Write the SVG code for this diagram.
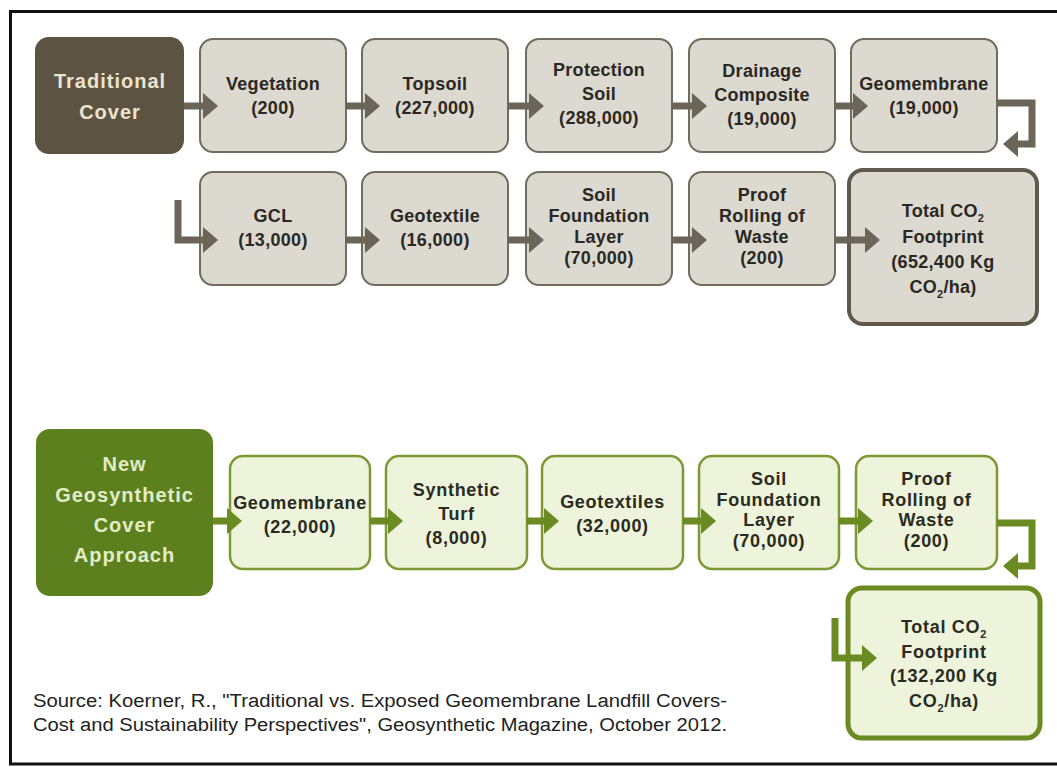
<svg xmlns="http://www.w3.org/2000/svg" width="1057" height="767" viewBox="0 0 1057 767">
<style>
.t{font-family:"Liberation Sans",Arial,sans-serif;font-weight:bold;font-size:18px;letter-spacing:0.3px;text-anchor:middle;fill:#2b2823}
.tg{font-family:"Liberation Sans",Arial,sans-serif;font-weight:bold;font-size:18px;letter-spacing:0.7px;text-anchor:middle;fill:#2a2b20}
.h{font-family:"Liberation Sans",Arial,sans-serif;font-weight:bold;font-size:20px;letter-spacing:1px;text-anchor:middle}
.gray{fill:#dcd9d1;stroke:#726c5f;stroke-width:2}
.grayT{fill:#dcd9d1;stroke:#5f594d;stroke-width:4}
.green{fill:#eef3dc;stroke:#7b9a33;stroke-width:2.5}
.greenT{fill:#eef3dc;stroke:#6b8a22;stroke-width:5}
.ca{fill:none;stroke:#6b6558;stroke-width:7}
.cg{fill:none;stroke:#6a8b22;stroke-width:7}
.src{font-family:"Liberation Sans",Arial,sans-serif;font-size:18px;fill:#222}
</style>
<defs>
<marker id="ah" markerUnits="userSpaceOnUse" markerWidth="16" markerHeight="28" refX="0" refY="13" orient="auto" overflow="visible"><path d="M0,0 L15,13 L0,26 z" fill="#6b6558"/></marker>
<marker id="ahg" markerUnits="userSpaceOnUse" markerWidth="16" markerHeight="28" refX="0" refY="13" orient="auto" overflow="visible"><path d="M0,0 L15,13 L0,26 z" fill="#6a8b22"/></marker>
</defs>
<rect x="0" y="0" width="1057" height="767" fill="#ffffff"/>
<rect x="10.5" y="11.5" width="1070" height="752.5" fill="none" stroke="#111" stroke-width="3"/>

<g id="traditional-cover">
<rect x="35" y="37" width="149" height="117" rx="14" fill="#5c5342"/>
<text class="h" fill="#ede4d0"><tspan x="110" y="88">Traditional</tspan><tspan x="110" y="119">Cover</tspan></text>
</g>
<g id="vegetation">
<rect class="gray" x="200" y="39" width="146" height="113" rx="13"/>
<text class="t"><tspan x="273" y="90">Vegetation</tspan><tspan x="273" y="114">(200)</tspan></text>
</g>
<g id="topsoil">
<rect class="gray" x="362" y="39" width="146" height="113" rx="13"/>
<text class="t"><tspan x="435" y="90">Topsoil</tspan><tspan x="435" y="114">(227,000)</tspan></text>
</g>
<g id="protection-soil">
<rect class="gray" x="526" y="39" width="146" height="113" rx="13"/>
<text class="t"><tspan x="599" y="76">Protection</tspan><tspan x="599" y="100">Soil</tspan><tspan x="599" y="124">(288,000)</tspan></text>
</g>
<g id="drainage-composite">
<rect class="gray" x="689" y="39" width="146" height="113" rx="13"/>
<text class="t"><tspan x="762" y="77">Drainage</tspan><tspan x="762" y="101">Composite</tspan><tspan x="762" y="125">(19,000)</tspan></text>
</g>
<g id="geomembrane-1">
<rect class="gray" x="851" y="39" width="146" height="113" rx="13"/>
<text class="t"><tspan x="924" y="90">Geomembrane</tspan><tspan x="924" y="114">(19,000)</tspan></text>
</g>

<g id="gcl">
<rect class="gray" x="200" y="172" width="146" height="113" rx="13"/>
<text class="t"><tspan x="273" y="222">GCL</tspan><tspan x="273" y="246">(13,000)</tspan></text>
</g>
<g id="geotextile">
<rect class="gray" x="362" y="172" width="146" height="113" rx="13"/>
<text class="t"><tspan x="435" y="222">Geotextile</tspan><tspan x="435" y="246">(16,000)</tspan></text>
</g>
<g id="soil-foundation-1">
<rect class="gray" x="526" y="172" width="146" height="113" rx="13"/>
<text class="t"><tspan x="599" y="201">Soil</tspan><tspan x="599" y="222">Foundation</tspan><tspan x="599" y="243">Layer</tspan><tspan x="599" y="264">(70,000)</tspan></text>
</g>
<g id="proof-rolling-1">
<rect class="gray" x="689" y="172" width="146" height="113" rx="13"/>
<text class="t"><tspan x="762" y="201">Proof</tspan><tspan x="762" y="222">Rolling of</tspan><tspan x="762" y="243">Waste</tspan><tspan x="762" y="264">(200)</tspan></text>
</g>
<g id="total-traditional">
<rect class="grayT" x="849" y="170" width="188" height="154" rx="14"/>
<text class="t"><tspan x="943" y="217">Total CO<tspan font-size="11" dy="5">2</tspan></tspan><tspan x="943" y="243">Footprint</tspan><tspan x="943" y="268">(652,400 Kg</tspan><tspan x="943" y="293">CO<tspan font-size="11" dy="5">2</tspan><tspan dy="-5">/ha)</tspan></tspan></text>
</g>

<g id="new-geosynthetic">
<rect x="36" y="429" width="177" height="167" rx="14" fill="#5b801d"/>
<text class="h" fill="#e2ecc8"><tspan x="124.5" y="471">New</tspan><tspan x="124.5" y="502">Geosynthetic</tspan><tspan x="124.5" y="532">Cover</tspan><tspan x="124.5" y="562">Approach</tspan></text>
</g>
<g id="geomembrane-2">
<rect class="green" x="230" y="456" width="140" height="113" rx="13"/>
<text class="tg"><tspan x="300" y="509">Geomembrane</tspan><tspan x="300" y="533">(22,000)</tspan></text>
</g>
<g id="synthetic-turf">
<rect class="green" x="386" y="456" width="141" height="113" rx="13"/>
<text class="tg"><tspan x="456.5" y="496">Synthetic</tspan><tspan x="456.5" y="520">Turf</tspan><tspan x="456.5" y="544">(8,000)</tspan></text>
</g>
<g id="geotextiles">
<rect class="green" x="542" y="456" width="141" height="113" rx="13"/>
<text class="tg"><tspan x="612.5" y="508">Geotextiles</tspan><tspan x="612.5" y="532">(32,000)</tspan></text>
</g>
<g id="soil-foundation-2">
<rect class="green" x="699" y="456" width="140" height="113" rx="13"/>
<text class="tg"><tspan x="769" y="485">Soil</tspan><tspan x="769" y="506">Foundation</tspan><tspan x="769" y="526">Layer</tspan><tspan x="769" y="547">(70,000)</tspan></text>
</g>
<g id="proof-rolling-2">
<rect class="green" x="856" y="456" width="141" height="113" rx="13"/>
<text class="tg"><tspan x="926.5" y="485">Proof</tspan><tspan x="926.5" y="506">Rolling of</tspan><tspan x="926.5" y="526">Waste</tspan><tspan x="926.5" y="547">(200)</tspan></text>
</g>
<g id="total-geosynthetic">
<rect class="greenT" x="848" y="588" width="192" height="150" rx="14"/>
<text class="tg"><tspan x="944" y="633">Total CO<tspan font-size="11" dy="5">2</tspan></tspan><tspan x="944" y="658">Footprint</tspan><tspan x="944" y="682">(132,200 Kg</tspan><tspan x="944" y="707">CO<tspan font-size="11" dy="5">2</tspan><tspan dy="-5">/ha)</tspan></tspan></text>
</g>

<g id="connectors">
<path class="ca" d="M184,106 H203" marker-end="url(#ah)"/>
<path class="ca" d="M346,106 H365" marker-end="url(#ah)"/>
<path class="ca" d="M508,106 H529" marker-end="url(#ah)"/>
<path class="ca" d="M672,106 H692" marker-end="url(#ah)"/>
<path class="ca" d="M835,106 H853" marker-end="url(#ah)"/>
<path class="ca" d="M997,103 H1032 V144 H1018" marker-end="url(#ah)"/>
<path class="ca" d="M178,200 V240 H203" marker-end="url(#ah)"/>
<path class="ca" d="M346,240 H365" marker-end="url(#ah)"/>
<path class="ca" d="M508,240 H529" marker-end="url(#ah)"/>
<path class="ca" d="M672,240 H692" marker-end="url(#ah)"/>
<path class="ca" d="M835,240 H865" marker-end="url(#ah)"/>
<path class="cg" d="M213,521 H227" marker-end="url(#ahg)"/>
<path class="cg" d="M370,521 H388" marker-end="url(#ahg)"/>
<path class="cg" d="M527,521 H544" marker-end="url(#ahg)"/>
<path class="cg" d="M683,521 H701" marker-end="url(#ahg)"/>
<path class="cg" d="M839,521 H858" marker-end="url(#ahg)"/>
<path class="cg" d="M997,523 H1032 V566 H1018" marker-end="url(#ahg)"/>
<path class="cg" d="M835,618 V658 H862" marker-end="url(#ahg)"/>
</g>

<g id="source">
<text class="src" x="33" y="707" textLength="694" lengthAdjust="spacingAndGlyphs">Source:  Koerner, R., "Traditional vs. Exposed Geomembrane Landfill Covers-</text>
<text class="src" x="33" y="731" textLength="694" lengthAdjust="spacingAndGlyphs">Cost and Sustainability Perspectives", Geosynthetic Magazine, October 2012.</text>
</g>
</svg>
